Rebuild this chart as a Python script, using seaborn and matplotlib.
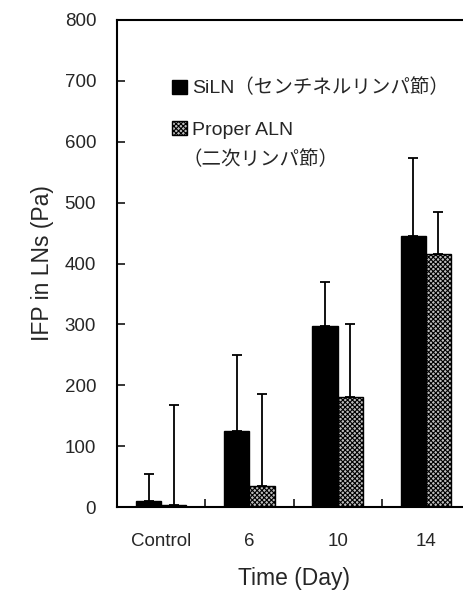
import matplotlib
matplotlib.use("Agg")
import matplotlib.pyplot as plt
import seaborn as sns
import pandas as pd
import numpy as np
from matplotlib.patches import Patch

categories = ["Control", "6", "10", "14"]
series = ["SiLN（センチネルリンパ節）", "Proper ALN"]
series2_sub = "（二次リンパ節）"
siln_values = [10, 125, 298, 445]
siln_err = [45, 125, 72, 128]
aln_values = [3, 35, 180, 415]
aln_err = [165, 150, 120, 70]
yticks = [0, 100, 200, 300, 400, 500, 600, 700, 800]

sns.set_theme(style="white")
plt.rcParams['font.family'] = ['Liberation Sans', 'Noto Sans CJK JP', 'DejaVu Sans']
plt.rcParams['hatch.color'] = '#444444'
plt.rcParams['hatch.linewidth'] = 0.8

df = pd.DataFrame({
    "cat": categories * 2,
    "series": [series[0]] * 4 + [series[1]] * 4,
    "val": siln_values + aln_values,
})

fig = plt.figure(figsize=(4.63, 5.93), dpi=100)
ax = fig.add_axes([117/463, 1-507/593, (470-117)/463, (507-20)/593])

sns.barplot(data=df, x="cat", y="val", hue="series", order=categories,
            hue_order=series, palette=["black", "#bdbdbd"], width=0.57,
            errorbar=None, ax=ax, legend=False, edgecolor="black", linewidth=1.0)

errs = [siln_err, aln_err]
bar_conts = list(ax.containers)
for i, cont in enumerate(bar_conts):
    for j, bar in enumerate(cont):
        if i == 1:
            bar.set_hatch("xxxxxxx")
        xc = bar.get_x() + bar.get_width() / 2
        h = bar.get_height()
        ax.errorbar([xc], [h], yerr=[[0], [errs[i][j]]], fmt="none",
                    ecolor="black", elinewidth=1.3, capsize=3.5, capthick=1.3)

ax.set_xlim(-0.5, 3.5)
ax.set_ylim(0, 800)
ax.set_yticks(yticks)
ax.set_yticklabels([str(t) for t in yticks], fontsize=13.5)
ax.set_xticks(range(len(categories)))
ax.set_xticklabels(categories, fontsize=13.5)
ax.set_xticks([0.5, 1.5, 2.5], minor=True)
ax.tick_params(axis="y", which="major", direction="in", length=6, width=1.3, pad=15, left=True)
ax.tick_params(axis="x", which="major", length=0, pad=19)
ax.tick_params(axis="x", which="minor", direction="in", length=6, width=1.3, bottom=True)
for s in ["left", "bottom", "top", "right"]:
    ax.spines[s].set_linewidth(1.5)
    ax.spines[s].set_color("black")

ax.set_xlabel("Time (Day)", fontsize=16.5, labelpad=12)
ax.set_ylabel("IFP in LNs (Pa)", fontsize=16.5, labelpad=8)

handles = [Patch(facecolor="black", edgecolor="black"),
           Patch(facecolor="#bdbdbd", edgecolor="black", hatch="xxxxxxx")]
leg = ax.legend(handles, series, loc="upper left", bbox_to_anchor=(0.107, 0.915),
                frameon=False, fontsize=14, handlelength=0.75, handleheight=0.75,
                handletextpad=0.25, labelspacing=1.2)
ax.text((183-117)/353, 1-(160-20)/487, series2_sub, transform=ax.transAxes,
        fontsize=14, ha="left", va="center")

fig.savefig("out.png", dpi=100)
